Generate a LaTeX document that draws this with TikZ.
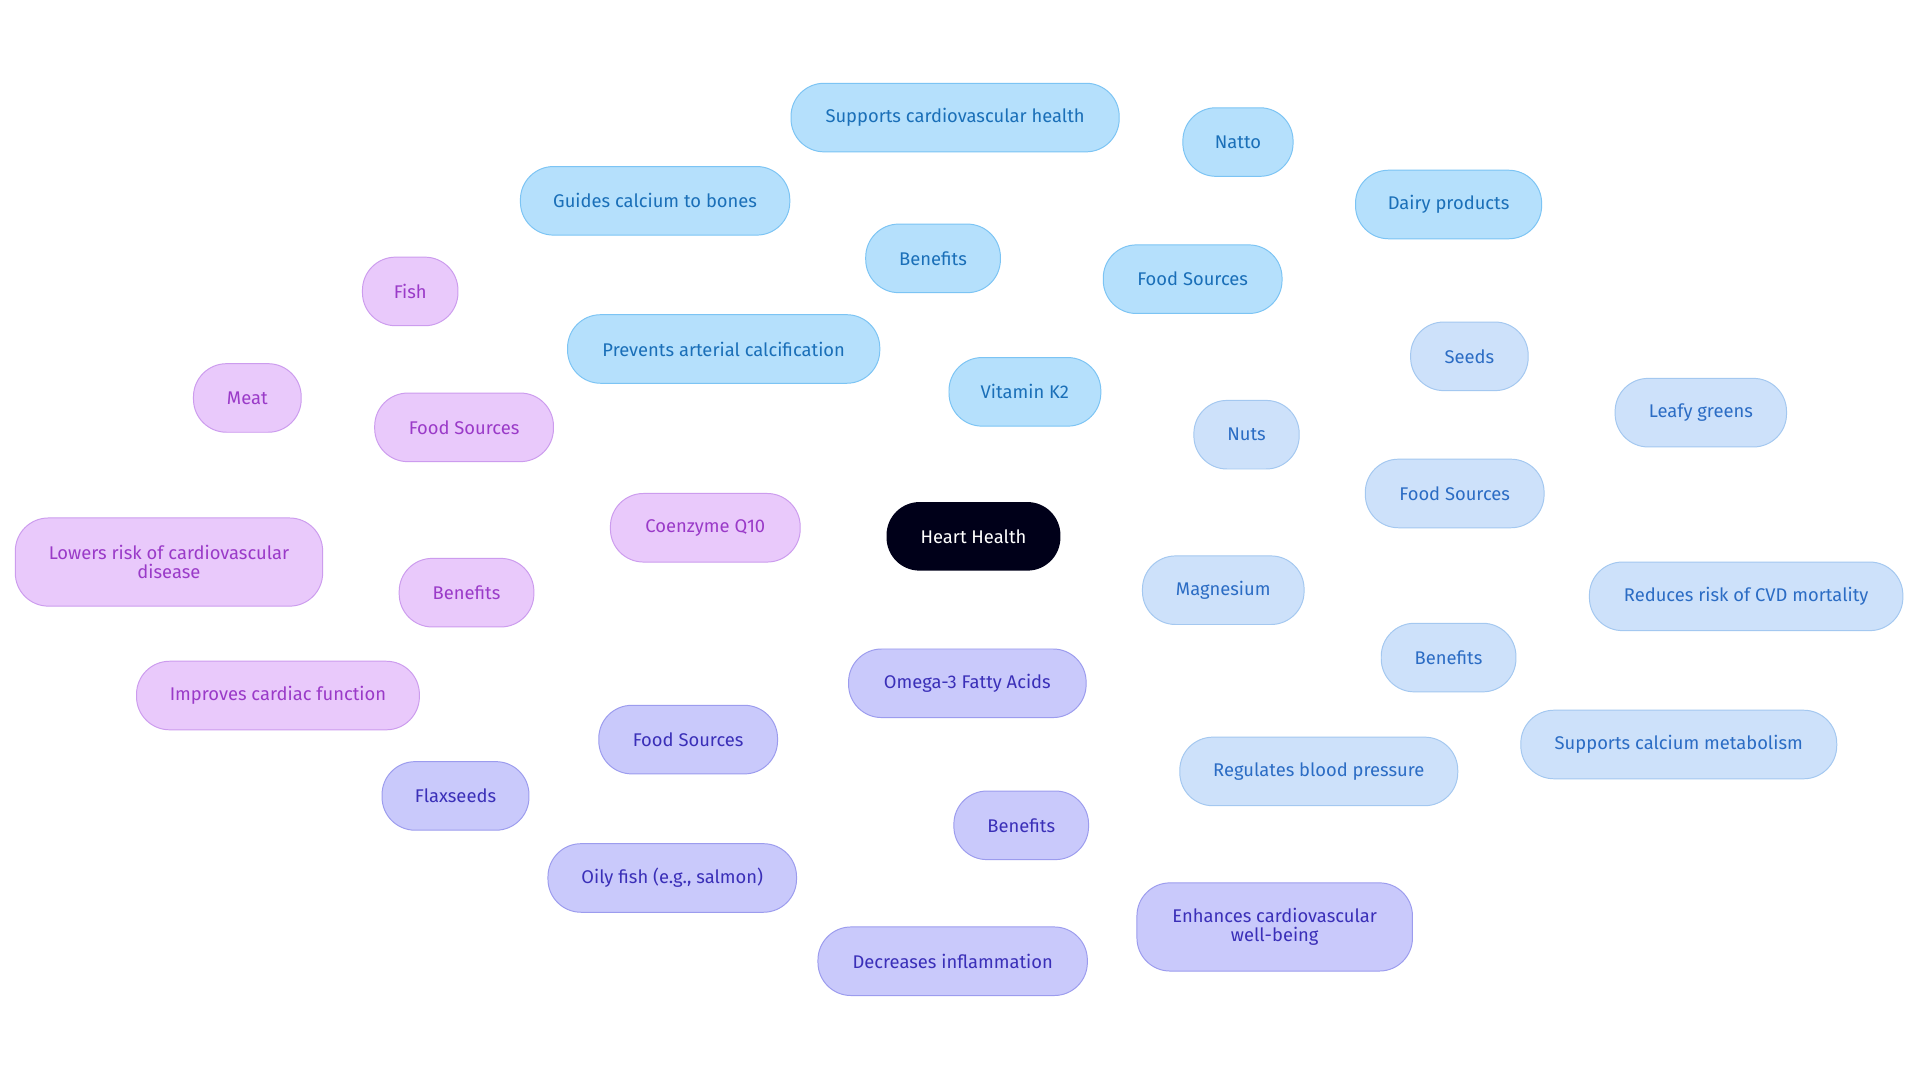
\documentclass[tikz,border=0pt]{standalone}
\usepackage{fontspec}
\setmainfont{Fira Sans}
\usetikzlibrary{backgrounds}
\definecolor{kf}{HTML}{B5E0FC}\definecolor{kd}{HTML}{7CC4F4}\definecolor{kt}{HTML}{1A6FB8}
\definecolor{mf}{HTML}{CDE1FA}\definecolor{md}{HTML}{A4C8F0}\definecolor{mt}{HTML}{2B6CC4}
\definecolor{of}{HTML}{C9C9FB}\definecolor{od}{HTML}{9C9CEE}\definecolor{ot}{HTML}{3A2FB8}
\definecolor{cf}{HTML}{E9C9FB}\definecolor{cd}{HTML}{CC9CEE}\definecolor{ct}{HTML}{9A3AC8}
\tikzset{
 b/.style={rounded corners=27pt,minimum height=56pt,inner xsep=12pt,align=center,font=\fontsize{15}{16}\selectfont,line width=0.8pt},
 K/.style={b,fill=kf,draw=kd,text=kt}, M/.style={b,fill=mf,draw=md,text=mt},
 O/.style={b,fill=of,draw=od,text=ot}, C/.style={b,fill=cf,draw=cd,text=ct},
 kl/.style={draw=kd!90!blue,line width=1.4pt}, ml/.style={draw=md,line width=1.4pt},
 ol/.style={draw=od,line width=1.4pt}, cl/.style={draw=cd,line width=1.4pt}}
\begin{document}
\begin{tikzpicture}[x=1pt,y=-1pt]
\useasboundingbox[fill=white] (0,0) rectangle (1568,884);
\node[b,fill=black!90!blue,text=white,minimum width=142pt] (hh) at (795,438) {Heart Health};
\node[K,minimum width=124pt] (k) at (837,320) {Vitamin K2};
\node[K,minimum width=110pt] (kb) at (762,211) {Benefits};
\node[K,minimum width=268pt] (kb1) at (780,96) {Supports cardiovascular health};
\node[K,minimum width=220pt] (kb2) at (535,164) {Guides calcium to bones};
\node[K,minimum width=255pt] (kb3) at (591,285) {Prevents arterial calcification};
\node[K,minimum width=146pt] (kf) at (974,228) {Food Sources};
\node[K,minimum width=90pt] (kf1) at (1011,116) {Natto};
\node[K,minimum width=152pt] (kf2) at (1183,167) {Dairy products};
\node[M,minimum width=132pt] (m) at (999,482) {Magnesium};
\node[M,minimum width=146pt] (mf) at (1188,403) {Food Sources};
\node[M,minimum width=86pt] (mf1) at (1018,355) {Nuts};
\node[M,minimum width=96pt] (mf2) at (1200,291) {Seeds};
\node[M,minimum width=140pt] (mf3) at (1389,337) {Leafy greens};
\node[M,minimum width=110pt] (mb) at (1183,537) {Benefits};
\node[M,minimum width=256pt] (mb1) at (1426,487) {Reduces risk of CVD mortality};
\node[M,minimum width=258pt] (mb2) at (1371,608) {Supports calcium metabolism};
\node[M,minimum width=227pt] (mb3) at (1077,630) {Regulates blood pressure};
\node[O,minimum width=194pt] (o) at (790,558) {Omega-3 Fatty Acids};
\node[O,minimum width=146pt] (of) at (562,604) {Food Sources};
\node[O,minimum width=120pt] (of1) at (372,650) {Flaxseeds};
\node[O,minimum width=203pt] (of2) at (549,717) {Oily fish (e.g., salmon)};
\node[O,minimum width=110pt] (ob) at (834,674) {Benefits};
\node[O,minimum width=225pt,minimum height=72pt] (ob1) at (1041,757) {Enhances cardiovascular\\well-being};
\node[O,minimum width=220pt] (ob2) at (778,785) {Decreases inflammation};
\node[C,minimum width=155pt] (c) at (576,431) {Coenzyme Q10};
\node[C,minimum width=146pt] (cf) at (379,349) {Food Sources};
\node[C,minimum width=78pt] (cf1) at (335,238) {Fish};
\node[C,minimum width=88pt] (cf2) at (202,325) {Meat};
\node[C,minimum width=110pt] (cb) at (381,484) {Benefits};
\node[C,minimum width=251pt,minimum height=72pt] (cb1) at (138,459) {Lowers risk of cardiovascular\\disease};
\node[C,minimum width=231pt] (cb2) at (227,568) {Improves cardiac function};
\begin{scope}[on background layer]
\draw[kl] (hh.center)--(k.center) (k.center)--(kb.center) (kb.center)--(kb1.center) (kb.center)--(kb2.center) (kb.center)--(kb3.center) (k.center)--(kf.center) (kf.center)--(kf1.center) (kf.center)--(kf2.center);
\draw[ml] (hh.center)--(m.center) (m.center)--(mf.center) (mf.center)--(mf1.center) (mf.center)--(mf2.center) (mf.center)--(mf3.center) (m.center)--(mb.center) (mb.center)--(mb1.center) (mb.center)--(mb2.center) (mb.center)--(mb3.center);
\draw[ol] (hh.center)--(o.center) (o.center)--(of.center) (of.center)--(of1.center) (of.center)--(of2.center) (o.center)--(ob.center) (ob.center)--(ob1.center) (ob.center)--(ob2.center);
\draw[cl] (hh.center)--(c.center) (c.center)--(cf.center) (cf.center)--(cf1.center) (cf.center)--(cf2.center) (c.center)--(cb.center) (cb.center)--(cb1.center) (cb.center)--(cb2.center);
\end{scope}
\end{tikzpicture}
\end{document}
